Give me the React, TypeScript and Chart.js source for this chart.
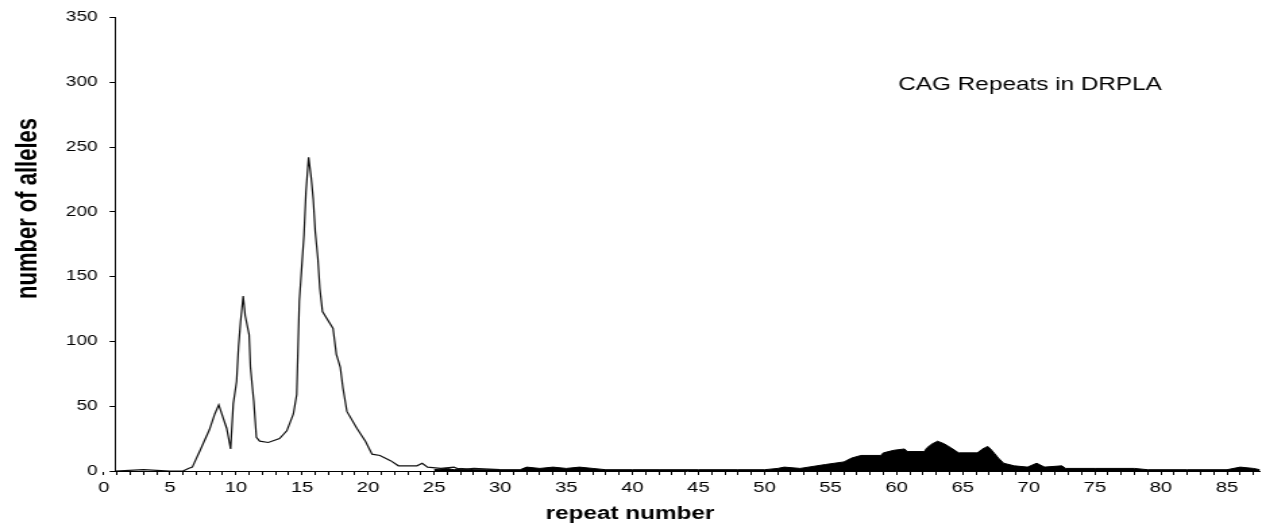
import React, { useEffect, useRef } from 'react';
import { Chart, registerables } from 'chart.js';

Chart.register(...registerables);

// ---- data ----
const normalRepeat = [
  0.85, 3, 5, 6, 6.4, 6.7, 7.25, 8.0, 8.4, 8.7, 9.3, 9.6, 9.8, 10.05, 10.2, 10.35, 10.55, 10.7,
  11.0, 11.1, 11.35, 11.55, 11.8, 12.45, 13.3, 13.85, 14.35, 14.6, 14.8, 15.15, 15.3, 15.5, 15.7,
  15.85, 16.0, 16.2, 16.35, 16.55, 17.35, 17.6, 17.9, 18.1, 18.4, 19.15, 19.8, 20.3, 20.9, 21.7,
  22.3, 23.7, 24.1, 24.5, 25.5, 26.5, 27, 28, 30,
];
const normalAlleles = [
  0, 1, 0, 0, 2, 3, 15, 32, 44, 51, 33, 17, 52, 69, 96, 115, 135, 120,
  105, 80, 54, 26, 23, 22, 25, 31, 44, 59, 131, 182, 215, 242, 226,
  210, 185, 164, 141, 123, 110, 90, 80, 64, 46, 33, 23, 13, 12, 8,
  4, 4, 6, 3, 2, 3, 1, 2, 1,
];

const expandedRepeat = [
  25, 26, 26.5, 27, 28, 29, 30, 31.5, 32, 33, 34, 35, 36, 37, 38, 40, 42, 45, 48, 50,
  51, 51.5, 52.7, 54.6, 56.0, 56.6, 57.3, 58.8, 59.0, 59.8, 60.6, 60.8, 62.1, 62.3, 62.7,
  63.1, 63.6, 64.1, 64.7, 66.1, 66.5, 66.9, 67.2, 67.7, 68.1, 68.9, 69.9, 70.6, 71.2, 72.5,
  72.8, 75, 78, 79, 82, 85, 86, 87, 87.5,
];
const expandedAlleles = [
  1, 2, 1, 2, 1, 1, 1, 1, 3, 2, 3, 2, 3, 2, 1, 1, 1, 1, 1, 1,
  2, 3, 2, 5, 7, 10, 12, 12, 14, 16, 17, 15, 15, 18, 21,
  23, 21, 18, 14, 14, 17, 19, 16, 10, 6, 4, 3, 6, 3, 4,
  2, 2, 2, 1, 1, 1, 3, 2, 1,
];

const xTickLabels = [0, 5, 10, 15, 20, 25, 30, 35, 40, 45, 50, 55, 60, 65, 70, 75, 80, 85];
const yTickLabels = [0, 50, 100, 150, 200, 250, 300, 350];

const annotationText = 'CAG Repeats in DRPLA';
const xTitle = 'repeat number';
const yTitle = 'number of alleles';

// ---- layout ----
const CANVAS_W = 935;
const CANVAS_H = 527;
const DISPLAY_W = 1262;
const FONT = "'Liberation Sans', Arial, Helvetica, sans-serif";

export default function App() {
  const ref = useRef<HTMLCanvasElement>(null);

  useEffect(() => {
    const canvas = ref.current;
    if (!canvas) return;

    const textPlugin = {
      id: 'textLabels',
      afterDraw(chart: any) {
        const { ctx, scales } = chart;
        const x = scales.x;
        const y = scales.y;
        ctx.save();
        ctx.fillStyle = '#000';
        ctx.textAlign = 'center';
        ctx.textBaseline = 'middle';
        ctx.font = `18px ${FONT}`;
        ctx.fillText(annotationText, x.getPixelForValue(70.1), y.getPixelForValue(298));
        ctx.translate(20.5, 208.5);
        ctx.rotate(-Math.PI / 2);
        ctx.font = `bold 22px ${FONT}`;
        ctx.fillText(yTitle, 0, 0);
        ctx.restore();
      },
    };

    const chart = new Chart(canvas, {
      type: 'line',
      data: {
        datasets: [
          {
            label: 'normal alleles',
            data: normalRepeat.map((r, i) => ({ x: r, y: normalAlleles[i] })),
            borderColor: '#111',
            borderWidth: 1.2,
            pointRadius: 0,
            fill: false,
            tension: 0,
          },
          {
            label: 'DRPLA alleles',
            data: expandedRepeat.map((r, i) => ({ x: r, y: expandedAlleles[i] })),
            borderColor: '#000',
            backgroundColor: '#000',
            borderWidth: 1,
            pointRadius: 0,
            fill: 'origin',
            tension: 0,
          },
        ],
      },
      options: {
        responsive: false,
        animation: false,
        devicePixelRatio: 1,
        layout: { padding: { top: 15, right: 1.5, left: 0, bottom: 0 } },
        plugins: {
          legend: { display: false },
          tooltip: { enabled: false },
          title: {
            display: true,
            text: xTitle,
            position: 'bottom',
            color: '#000',
            font: { family: FONT, size: 18, weight: 'bold' },
            padding: { top: 4, bottom: 2 },
          },
        },
        scales: {
          x: {
            type: 'linear',
            min: 0.85,
            max: 87.5,
            afterBuildTicks: (axis: any) => {
              const t: any[] = [];
              for (let v = 0; v <= 87; v++) t.push({ value: v });
              axis.ticks = t;
            },
            afterFit: (s: any) => {
              s.height = 28.4;
            },
            ticks: {
              autoSkip: false,
              maxRotation: 0,
              minRotation: 0,
              color: '#000',
              padding: 4,
              font: { family: FONT, size: 15 },
              callback: (v: any) => (xTickLabels.includes(Number(v)) ? String(v) : ''),
            },
            grid: {
              display: true,
              drawOnChartArea: false,
              drawTicks: true,
              tickLength: 4,
              color: '#000',
              lineWidth: 1,
            },
            border: { display: true, color: '#000', width: 1 },
          },
          y: {
            type: 'linear',
            min: 0,
            max: 350,
            afterBuildTicks: (axis: any) => {
              axis.ticks = yTickLabels.map((v) => ({ value: v }));
            },
            afterFit: (s: any) => {
              s.width = 85.2;
            },
            ticks: {
              color: '#000',
              padding: 9,
              font: { family: FONT, size: 14 },
              callback: (v: any) => String(v),
            },
            grid: {
              display: true,
              drawOnChartArea: false,
              drawTicks: true,
              tickLength: 4,
              color: '#000',
              lineWidth: 1,
            },
            border: { display: true, color: '#000', width: 1 },
          },
        },
      },
      plugins: [textPlugin],
    });

    return () => chart.destroy();
  }, []);

  return (
    <div style={{ position: 'absolute', left: 0, top: 0, width: DISPLAY_W, height: CANVAS_H, background: '#fff' }}>
      <canvas
        ref={ref}
        width={CANVAS_W}
        height={CANVAS_H}
        style={{ width: `${DISPLAY_W}px`, height: `${CANVAS_H}px`, display: 'block' }}
      />
    </div>
  );
}
